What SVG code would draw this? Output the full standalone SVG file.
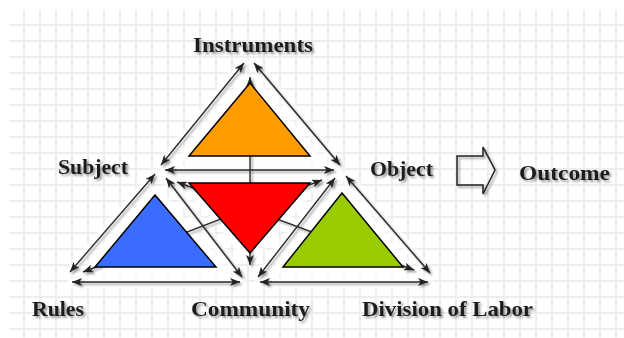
<svg xmlns="http://www.w3.org/2000/svg" width="624" height="338" viewBox="0 0 624 338">
<defs>
<pattern id="grid" patternUnits="userSpaceOnUse" x="16" y="17" width="16" height="16">
<path d="M8,0V16M0,8H16" stroke="#ededed" stroke-width="2" fill="none"/>
</pattern>
<filter id="ts" x="-10%" y="-30%" width="130%" height="170%">
<feGaussianBlur in="SourceAlpha" stdDeviation="1.2"/>
<feOffset dx="2" dy="2" result="b"/>
<feFlood flood-color="#000" flood-opacity="0.4"/>
<feComposite in2="b" operator="in"/>
<feMerge><feMergeNode/><feMergeNode in="SourceGraphic"/></feMerge>
</filter>
<filter id="glow" x="-10%" y="-10%" width="120%" height="120%">
<feGaussianBlur stdDeviation="1.5"/>
</filter>
<marker id="ah" viewBox="0 0 10 8" refX="10" refY="4" markerWidth="10" markerHeight="8" markerUnits="userSpaceOnUse" orient="auto-start-reverse">
<path d="M0,0 L10,4 L0,8 L2.5,4 z" fill="#222"/>
</marker>
<style>
.lbl{font-family:"Liberation Serif","Times New Roman",serif;font-weight:bold;font-size:22px;fill:#1e1e1e}
.ln{stroke:#2a2a2a;stroke-width:1.4;fill:none;marker-start:url(#ah);marker-end:url(#ah)}
.halo line{stroke:#fff;stroke-width:9;stroke-linecap:round}
.halo polygon{stroke:#fff;stroke-width:16;stroke-linejoin:round;fill:#fff}
.tri{stroke:#000;stroke-width:1.5;stroke-linejoin:miter}
</style>
</defs>
<rect width="624" height="338" fill="#fff"/>
<rect x="9" y="10" width="615" height="328" fill="url(#grid)"/>

<g id="halos" filter="url(#glow)" class="halo">
<polygon points="250,83 189,156 310,156"/>
<polygon points="189,183 310,183 250,253"/>
<polygon points="155,195 95,267 216,267"/>
<polygon points="342,193 283,267 403,267"/>
<line x1="244" y1="63" x2="161" y2="165"/>
<line x1="254" y1="63" x2="340" y2="165"/>
<line x1="165" y1="170" x2="334" y2="170"/>
<line x1="155" y1="174" x2="70" y2="272"/>
<line x1="166" y1="178" x2="242" y2="277"/>
<line x1="346" y1="176" x2="430" y2="273"/>
<line x1="335" y1="178" x2="258" y2="277"/>
<line x1="72" y1="282" x2="240" y2="282"/>
<line x1="260" y1="282" x2="428" y2="282"/>
</g>

<g id="connectors" filter="url(#ts)">
<line class="ln" x1="244" y1="63" x2="161" y2="165"/>
<line class="ln" x1="254" y1="63" x2="340" y2="165"/>
<line class="ln" x1="250" y1="77" x2="250" y2="265"/>
<line class="ln" x1="165" y1="170" x2="334" y2="170"/>
<line class="ln" x1="155" y1="174" x2="70" y2="272"/>
<line class="ln" x1="166" y1="178" x2="242" y2="277"/>
<line class="ln" x1="177" y1="182" x2="414" y2="270"/>
<line class="ln" x1="346" y1="176" x2="430" y2="273"/>
<line class="ln" x1="335" y1="178" x2="258" y2="277"/>
<line class="ln" x1="322" y1="180" x2="83" y2="272"/>
<line class="ln" x1="72" y1="282" x2="240" y2="282"/>
<line class="ln" x1="260" y1="282" x2="428" y2="282"/>
</g>

<g id="triangles">
<polygon id="tri-instruments" class="tri" points="250,83 189,156 310,156" fill="#ff9c00"/>
<polygon id="tri-community" class="tri" points="189,183 310,183 250,253" fill="#ff0000"/>
<polygon id="tri-rules" class="tri" points="155,195 95,267 216,267" fill="#3a6cff"/>
<polygon id="tri-division" class="tri" points="342,193 283,267 403,267" fill="#99cc00"/>
</g>

<g id="node-instruments"><text class="lbl" x="193" y="52" textLength="120" lengthAdjust="spacingAndGlyphs" filter="url(#ts)">Instruments</text></g>
<g id="node-subject"><text class="lbl" x="58" y="174" textLength="70" lengthAdjust="spacingAndGlyphs" filter="url(#ts)">Subject</text></g>
<g id="node-object"><text class="lbl" x="370" y="176" textLength="63" lengthAdjust="spacingAndGlyphs" filter="url(#ts)">Object</text></g>
<g id="node-rules"><text class="lbl" x="32" y="316" textLength="52" lengthAdjust="spacingAndGlyphs" filter="url(#ts)">Rules</text></g>
<g id="node-community"><text class="lbl" x="191" y="316" textLength="119" lengthAdjust="spacingAndGlyphs" filter="url(#ts)">Community</text></g>
<g id="node-division"><text class="lbl" x="362" y="316" textLength="171" lengthAdjust="spacingAndGlyphs" filter="url(#ts)">Division of Labor</text></g>
<g id="node-outcome">
<polygon points="457,156 483,156 483,147 495,170 483,194 483,185 457,185" fill="none" stroke="#222" stroke-width="1.5" filter="url(#ts)"/>
<text class="lbl" x="519" y="180" textLength="91" lengthAdjust="spacingAndGlyphs" filter="url(#ts)">Outcome</text>
</g>
</svg>
